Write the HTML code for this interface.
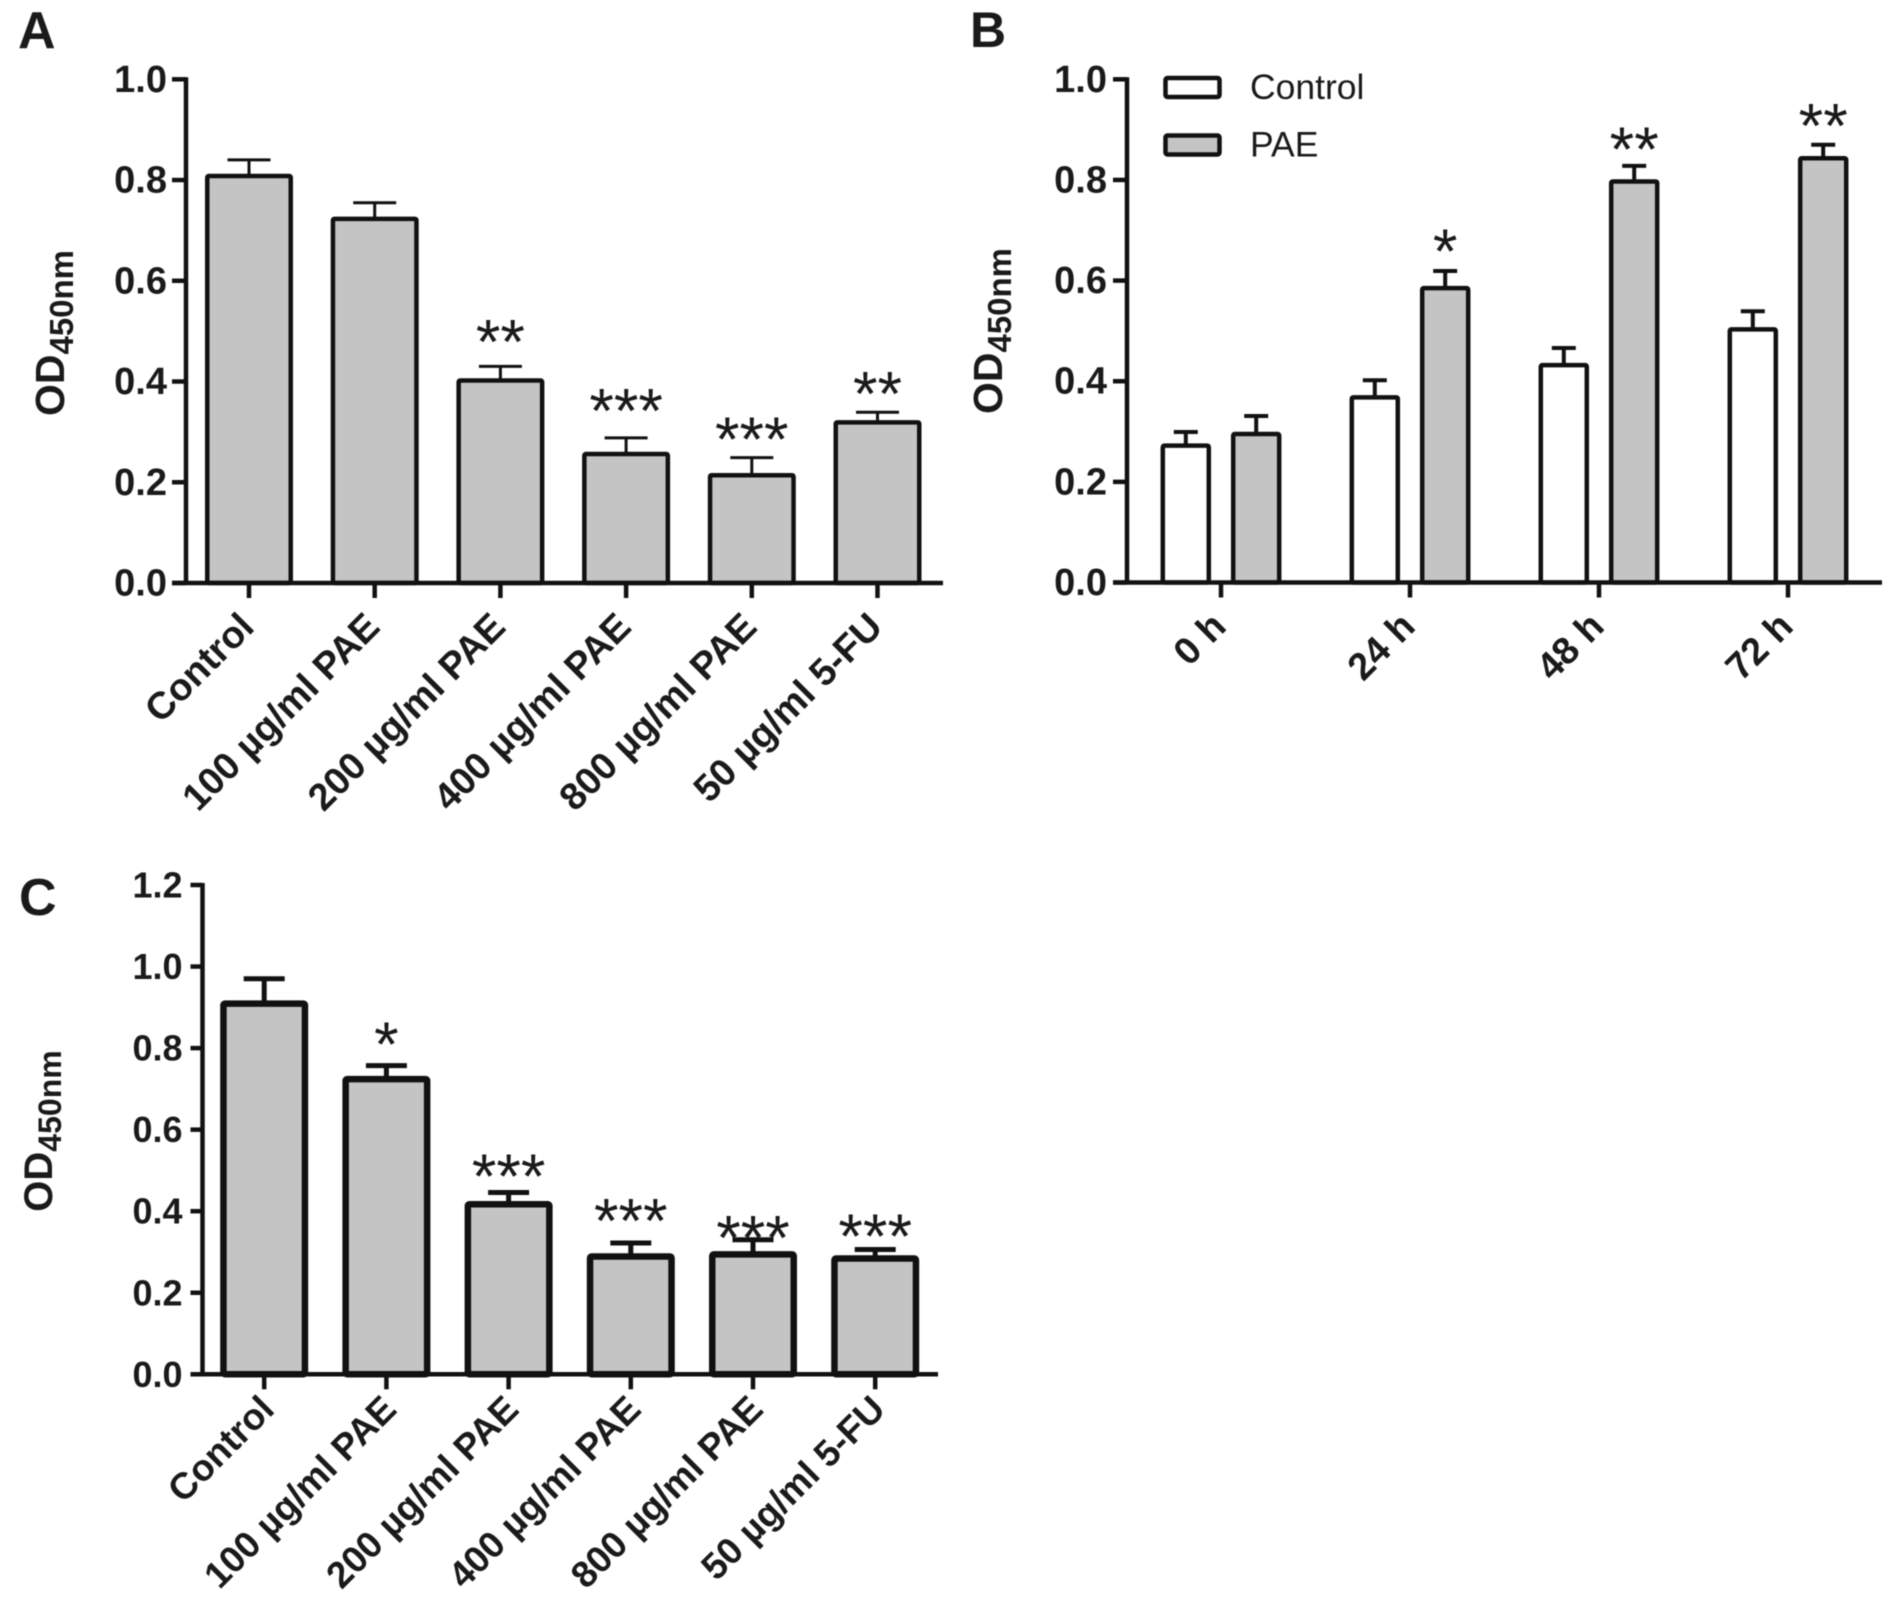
<!DOCTYPE html>
<html lang="en">
<head>
<meta charset="utf-8">
<title>OD450nm bar charts</title>
<style>
html,body{margin:0;padding:0;background:#fff;}
svg{display:block;filter:blur(0.6px);}
text{font-family:"Liberation Sans",sans-serif;fill:#1a1a1a;}
.b{font-weight:bold;}
</style>
</head>
<body>
<svg id="fig" xmlns="http://www.w3.org/2000/svg" width="1903" height="1600" viewBox="0 0 1903 1600"></svg>
<script>
// Panel A data
var catsA = ['Control','100 µg/ml PAE','200 µg/ml PAE','400 µg/ml PAE','800 µg/ml PAE','50 µg/ml 5-FU'];
var valuesA = [0.808,0.723,0.402,0.256,0.214,0.319];
var errTopsA = [0.84,0.755,0.43,0.288,0.249,0.339];
var starsA = ['','','**','***','***','**'];
var starLevelsA = [0,0,0.501,0.364,0.307,0.398];
var ticksA = ['0.0','0.2','0.4','0.6','0.8','1.0'];
// Panel B data
var catsB = ['0 h','24 h','48 h','72 h'];
var controlB = [0.272,0.368,0.432,0.503];
var controlErrTopsB = [0.299,0.402,0.466,0.539];
var paeB = [0.295,0.585,0.797,0.843];
var paeErrTopsB = [0.331,0.619,0.828,0.870];
var starsB = ['','*','**','**'];
var starLevelsB = [0,0.68,0.883,0.93];
var ticksB = ['0.0','0.2','0.4','0.6','0.8','1.0'];
var legendB = ['Control','PAE'];
// Panel C data
var catsC = ['Control','100 µg/ml PAE','200 µg/ml PAE','400 µg/ml PAE','800 µg/ml PAE','50 µg/ml 5-FU'];
var valuesC = [0.909,0.724,0.417,0.289,0.294,0.284];
var errTopsC = [0.97,0.757,0.446,0.322,0.33,0.306];
var starsC = ['','*','***','***','***','***'];
var starLevelsC = [0,0.836,0.513,0.404,0.362,0.366];
var ticksC = ['0.0','0.2','0.4','0.6','0.8','1.0','1.2'];

var NS = 'http://www.w3.org/2000/svg';
var fig = document.getElementById('fig');
var INK = '#111';
var GREY = '#c4c4c4';

function mk(parent, tag, attrs, txt) {
  var el = document.createElementNS(NS, tag);
  for (var k in attrs) el.setAttribute(k, attrs[k]);
  if (txt !== undefined) el.textContent = txt;
  parent.appendChild(el);
  return el;
}
function line(parent, x1, y1, x2, y2, w) {
  return mk(parent, 'line', {x1:x1, y1:y1, x2:x2, y2:y2, stroke:INK, 'stroke-width':w});
}

function drawAxes(p, cfg, ticks, cats) {
  var axY = line(p, cfg.x0, cfg.yScale(+ticks[ticks.length-1]) - 2, cfg.x0, cfg.y0 + 2, cfg.axisW);
  
  
  var axX = line(p, cfg.axisL, cfg.y0, cfg.axisR, cfg.y0, cfg.axisW);
  
  
  ticks.forEach(function (t) {
    var y = cfg.yScale(+t);
    var tk = line(p, cfg.axisL, y, cfg.x0, y, cfg.axisW);
    
    
    var lb = mk(p, 'text', {x: cfg.axisL - cfg.labelGap, y: y + 12.5, 'text-anchor':'end', 'class':'b', 'font-size':cfg.tickFont}, t);
    
    
  });
  cats.forEach(function (c, i) {
    var x = cfg.xScale(i);
    var tk = line(p, x, cfg.y0, x, cfg.y0 + 15, cfg.axisW);
    
    
    var ax = x + cfg.labelDx, ay = cfg.y0 + cfg.labelDy;
    var lb = mk(p, 'text', {x: ax, y: ay, 'text-anchor':'end', 'class':'b', 'font-size':cfg.catFont,
      transform:'rotate(-45 ' + ax + ' ' + ay + ')'}, c);
    
    
  });
}

function drawBar(p, cfg, cx, w, val, errTop, fill, name) {
  var yT = cfg.yScale(val), yE = cfg.yScale(errTop);
  var stem = line(p, cx, yE, cx, yT, cfg.errW);
  
  
  var cap = line(p, cx - cfg.capW / 2, yE, cx + cfg.capW / 2, yE, cfg.errW);
  
  
  var r = mk(p, 'rect', {x: cx - w / 2, y: yT, width: w, height: cfg.y0 - yT, fill: fill,
    stroke: INK, 'stroke-width': cfg.barW, rx: 1.5});
  
  
}

function drawStar(p, cfg, cx, s, lvl) {
  if (!s) return;
  var st = mk(p, 'text', {x: cx, y: cfg.yScale(lvl) + cfg.starFont * 0.52, 'text-anchor':'middle', 'font-size':cfg.starFont}, s);
  
  
}

function drawTitle(p, x, y, odSize, subSize, name) {
  var t = mk(p, 'text', {x: 0, y: 0, 'class':'b', 'font-size':odSize, 'text-anchor':'middle',
    transform:'translate(' + x + ' ' + y + ') rotate(-90)'});
  
  
  mk(t, 'tspan', {}, 'OD');
  mk(t, 'tspan', {'font-size':subSize, dy: 9}, '450nm');
}

function panelLetter(x, y, s, size, name) {
  var t = mk(fig, 'text', {x: x, y: y, 'class':'b', 'font-size':size}, s);
  
  
}

/* ---------- Panel A ---------- */
var gA = mk(fig, 'g', {});


var cfgA = {x0:186, y0:583, axisL:172, axisR:943, axisW:4.5, barW:4.5, errW:3, capW:43,
  tickFont:38, labelGap:5, catFont:38, starFont:63, labelDx:7, labelDy:46,
  yScale:function(v){return 583 - v * 503.7;},
  xScale:function(i){return 249 + i * 125.7;}};
valuesA.forEach(function (v, i) {
  drawBar(gA, cfgA, cfgA.xScale(i), 83.5, v, errTopsA[i], GREY, 'bar-a-' + i);
  drawStar(gA, cfgA, cfgA.xScale(i), starsA[i], starLevelsA[i]);
});
drawAxes(gA, cfgA, ticksA, catsA);
drawTitle(gA, 64, 333, 41, 33, 'y-axis-title-a');
panelLetter(18, 48, 'A', 52, 'panel-label-a');

/* ---------- Panel B ---------- */
var gB = mk(fig, 'g', {});


var cfgB = {x0:1127, y0:582.5, axisL:1113, axisR:1882, axisW:4.5, barW:4.5, errW:4, capW:24,
  tickFont:38, labelGap:6, catFont:38, starFont:63, labelDx:7, labelDy:46,
  yScale:function(v){return 582.5 - v * 503.2;},
  xScale:function(i){return 1221 + i * 189;}};
catsB.forEach(function (c, i) {
  var x = cfgB.xScale(i);
  drawBar(gB, cfgB, x - 35.2, 46, controlB[i], controlErrTopsB[i], '#fff', 'bar-control-' + i);
  drawBar(gB, cfgB, x + 35.2, 46, paeB[i], paeErrTopsB[i], GREY, 'bar-pae-' + i);
  drawStar(gB, cfgB, x + 35.2, starsB[i], starLevelsB[i]);
});
drawAxes(gB, cfgB, ticksB, catsB);
drawTitle(gB, 1002, 331, 41, 33, 'y-axis-title-b');
panelLetter(970, 47, 'B', 50, 'panel-label-b');

legendB.forEach(function (name, i) {
  var y = 78 + i * 57.5;
  var sw = mk(gB, 'rect', {x:1165.5, y:y, width:54, height:19, rx:2, fill: i === 0 ? '#fff' : GREY, stroke:INK, 'stroke-width':4.5});
  
  
  var lb = mk(gB, 'text', {x:1250, y:y + 21, 'font-size':35.5}, name);
  
  
});

/* ---------- Panel C ---------- */
var gC = mk(fig, 'g', {});


var cfgC = {x0:202.5, y0:1374.3, axisL:190.5, axisR:938, axisW:4.5, barW:6.5, errW:5, capW:41,
  tickFont:36, labelGap:8, catFont:37, starFont:63, labelDx:12, labelDy:37,
  yScale:function(v){return 1374.3 - v * 407.75;},
  xScale:function(i){return 264.2 + i * 122.2;}};
valuesC.forEach(function (v, i) {
  drawBar(gC, cfgC, cfgC.xScale(i), 81.5, v, errTopsC[i], GREY, 'bar-c-' + i);
  drawStar(gC, cfgC, cfgC.xScale(i), starsC[i], starLevelsC[i]);
});
drawAxes(gC, cfgC, ticksC, catsC);
drawTitle(gC, 52, 1131, 40, 32, 'y-axis-title-c');
panelLetter(19, 915, 'C', 52, 'panel-label-c');
</script>
</body>
</html>
